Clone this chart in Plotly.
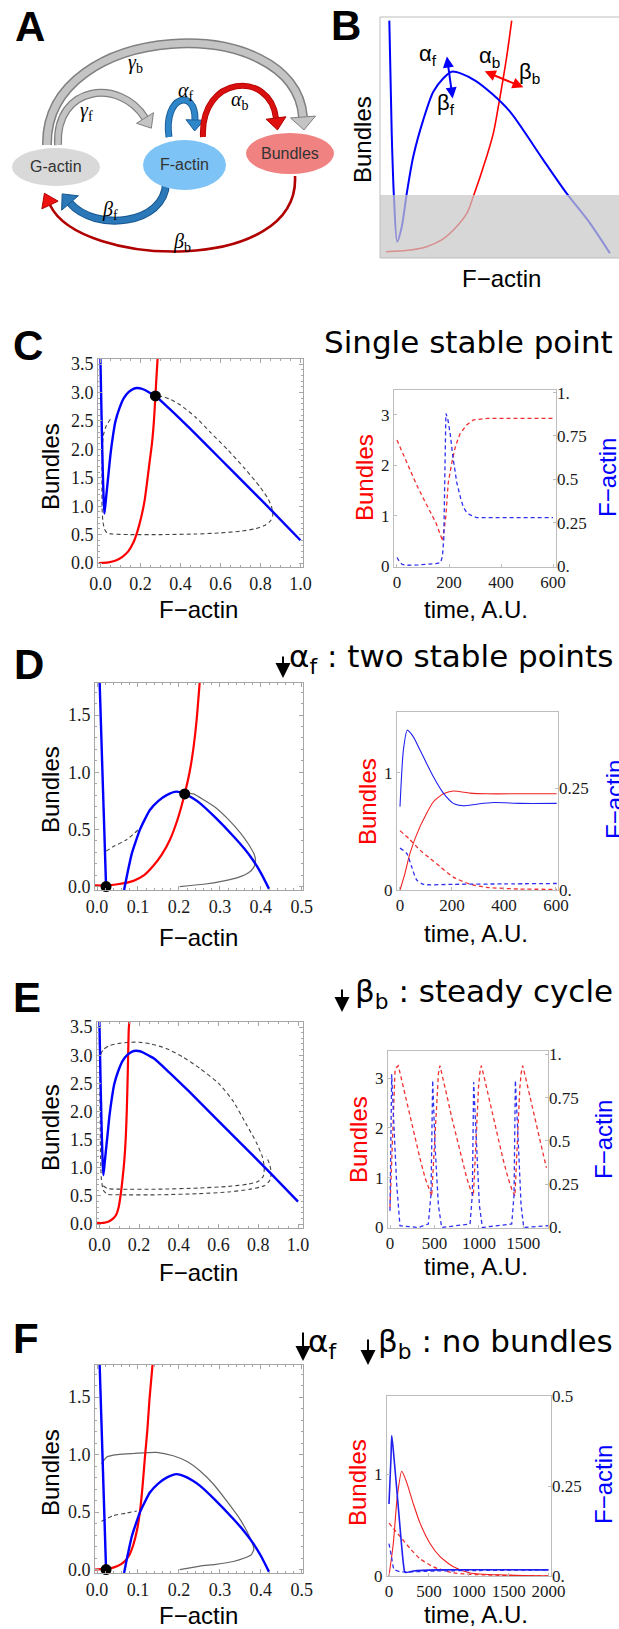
import math
import plotly.graph_objects as go

W, H = 619, 1629

# ======================= DATA =======================
# Panel B: schematic nullclines (arbitrary units 0..1)
B_blue_x = [0.039, 0.049, 0.059, 0.072, 0.091, 0.112, 0.139, 0.181, 0.223, 0.265, 0.300, 0.34, 0.40, 0.47, 0.544, 0.683, 0.781, 0.879, 0.962]
B_blue_y = [0.985, 0.519, 0.241, 0.068, 0.130, 0.268, 0.420, 0.573, 0.690, 0.746, 0.773, 0.765, 0.735, 0.68, 0.607, 0.407, 0.268, 0.144, 0.020]
B_red_x = [0.025, 0.126, 0.195, 0.258, 0.307, 0.363, 0.390, 0.446, 0.474, 0.495, 0.530, 0.551]
B_red_y = [0.026, 0.033, 0.047, 0.075, 0.116, 0.185, 0.254, 0.420, 0.517, 0.628, 0.835, 0.985]
B_shade_top = 0.261

# Panels C and E: F-actin nullcline (blue)
CE_blue_x = [0.0, 0.004, 0.008, 0.012, 0.016, 0.02, 0.027, 0.033, 0.042, 0.05, 0.062, 0.075, 0.095, 0.117, 0.142, 0.165, 0.183, 0.205, 0.225, 0.25, 0.275, 0.35, 0.45, 0.6, 0.75, 0.86, 1.0]
CE_blue_y = [3.6, 2.9, 2.2, 1.6, 1.15, 0.87, 1.1, 1.31, 1.62, 1.90, 2.22, 2.49, 2.72, 2.90, 3.01, 3.065, 3.08, 3.07, 3.04, 2.99, 2.94, 2.70, 2.36, 1.83, 1.30, 0.91, 0.40]
# Panel C: bundle nullcline (red), trajectory (dashed), fixed point
C_red_x = [-0.008, 0.04, 0.08, 0.11, 0.14, 0.165, 0.18, 0.195, 0.21, 0.222, 0.233, 0.245, 0.258, 0.268, 0.275, 0.28, 0.286]
C_red_y = [0.0, 0.01, 0.05, 0.11, 0.21, 0.36, 0.50, 0.68, 0.90, 1.12, 1.41, 1.75, 2.11, 2.52, 2.94, 3.25, 3.6]
C_traj_x = [0.05, 0.03, 0.015, 0.01, 0.008, 0.008, 0.012, 0.02, 0.033, 0.06, 0.15, 0.3, 0.475, 0.6, 0.7, 0.77, 0.82, 0.85, 0.862, 0.855, 0.835, 0.8, 0.72, 0.64, 0.55, 0.475, 0.4, 0.35, 0.31, 0.285]
C_traj_y = [2.53, 2.42, 2.25, 2.0, 1.5, 1.0, 0.75, 0.6, 0.53, 0.51, 0.50, 0.50, 0.51, 0.53, 0.56, 0.60, 0.66, 0.74, 0.84, 1.0, 1.15, 1.33, 1.67, 1.98, 2.3, 2.57, 2.78, 2.88, 2.93, 2.94]
C_fp_x = [0.275]
C_fp_y = [2.94]
# Panel C: time courses
C_t_red = [0, 25, 50, 75, 100, 125, 150, 176, 188, 197, 210, 225, 242, 268, 294, 350, 450, 600]
C_bund = [2.5, 2.2, 1.9, 1.62, 1.36, 1.12, 0.86, 0.5, 1.0, 1.65, 2.03, 2.38, 2.62, 2.8, 2.9, 2.93, 2.93, 2.93]
C_t_blue = [0, 8, 20, 40, 80, 120, 150, 168, 175, 180, 184, 188, 195, 204, 215, 230, 245, 255, 268, 281, 306, 400, 600]
C_fact = [0.05, 0.03, 0.01, 0.005, 0.007, 0.01, 0.015, 0.02, 0.06, 0.16, 0.5, 0.88, 0.85, 0.77, 0.63, 0.48, 0.39, 0.34, 0.31, 0.295, 0.28, 0.28, 0.28]

# Panels D and F: F-actin nullcline (blue, two branches)
DF_blueL_x = [0.006, 0.014, 0.022]
DF_blueL_y = [1.82, 0.91, 0.0]
DF_blueR_x = [0.066, 0.075, 0.085, 0.095, 0.105, 0.117, 0.129, 0.15, 0.17, 0.194, 0.214, 0.235, 0.251, 0.29, 0.333, 0.36, 0.381, 0.40, 0.42]
DF_blueR_y = [-0.03, 0.13, 0.29, 0.40, 0.50, 0.59, 0.67, 0.75, 0.80, 0.83, 0.81, 0.77, 0.73, 0.60, 0.44, 0.33, 0.23, 0.12, -0.02]
# Panel D
D_red_x = [-0.005, 0.022, 0.05, 0.089, 0.115, 0.137, 0.158, 0.178, 0.196, 0.214, 0.226, 0.235, 0.243, 0.251]
D_red_y = [0.01, 0.01, 0.02, 0.05, 0.10, 0.18, 0.28, 0.41, 0.58, 0.81, 1.0, 1.20, 1.45, 1.80]
D_trajS_x = [0.202, 0.26, 0.31, 0.345, 0.37, 0.383, 0.387, 0.384, 0.37, 0.35, 0.32, 0.29, 0.26, 0.235, 0.215]
D_trajS_y = [0.0, 0.02, 0.05, 0.08, 0.12, 0.17, 0.22, 0.28, 0.37, 0.47, 0.59, 0.69, 0.76, 0.81, 0.82]
D_trajD_x = [0.022, 0.04, 0.072, 0.105]
D_trajD_y = [0.31, 0.35, 0.41, 0.51]
D_fp_x = [0.022, 0.214]
D_fp_y = [0.0, 0.81]
D_t_rs = [0, 19, 38, 77, 128, 167, 205, 269, 333, 462, 603]
D_bund_s = [0.0, 0.14, 0.31, 0.54, 0.75, 0.82, 0.844, 0.826, 0.82, 0.82, 0.82]
D_t_bs = [0, 13, 28, 51, 77, 128, 167, 205, 244, 295, 359, 462, 603]
D_fact_s = [0.205, 0.344, 0.393, 0.377, 0.344, 0.279, 0.238, 0.213, 0.207, 0.211, 0.215, 0.213, 0.213]
D_t_rd = [0, 38, 77, 115, 154, 205, 269, 333, 462, 603]
D_bund_d = [0.506, 0.43, 0.34, 0.27, 0.20, 0.11, 0.05, 0.023, 0.008, 0.006]
D_t_bd = [0, 26, 45, 64, 90, 205, 400, 603]
D_fact_d = [0.103, 0.09, 0.057, 0.025, 0.014, 0.014, 0.015, 0.016]

# Panel E
E_red_x = [-0.017, 0.02, 0.05, 0.07, 0.084, 0.097, 0.109, 0.118, 0.126, 0.133, 0.138, 0.143, 0.148, 0.151]
E_red_y = [0.02, 0.02, 0.05, 0.1, 0.16, 0.3, 0.57, 0.85, 1.15, 1.55, 2.02, 2.7, 3.47, 3.6]
E_traj_x = [0.02, 0.04, 0.1, 0.3, 0.5, 0.65, 0.75, 0.8, 0.825, 0.83, 0.82, 0.79, 0.74, 0.672, 0.6, 0.504, 0.42, 0.336, 0.26, 0.2, 0.15, 0.1, 0.05, 0.02, 0.005,
            0.003, 0.004, 0.006, 0.01, 0.02, 0.04, 0.1, 0.3, 0.5, 0.65, 0.76, 0.83, 0.858, 0.865, 0.855, 0.84]
E_traj_y = [0.68, 0.63, 0.62, 0.62, 0.64, 0.67, 0.71, 0.76, 0.85, 1.0, 1.2, 1.45, 1.77, 2.19, 2.5, 2.77, 2.97, 3.12, 3.2, 3.23, 3.23, 3.21, 3.17, 3.1, 3.0,
            2.5, 1.8, 1.2, 0.8, 0.6, 0.53, 0.52, 0.52, 0.54, 0.57, 0.62, 0.68, 0.78, 0.92, 1.08, 1.2]
E_t_red = [0, 20, 40, 56, 75, 94, 120, 169, 225, 281, 338, 394, 440, 469,
           480, 500, 515, 530, 545, 562, 590, 637, 693, 749, 805, 862, 908, 937,
           948, 965, 980, 995, 1010, 1027, 1055, 1102, 1158, 1214, 1270, 1327, 1373, 1405,
           1413, 1430, 1445, 1460, 1475, 1492, 1520, 1567, 1623, 1679, 1735, 1760]
E_bund = [0.40, 1.4, 2.6, 3.13, 3.22, 3.25, 3.05, 2.67, 2.22, 1.80, 1.38, 1.0, 0.75, 0.63,
          1.0, 1.66, 2.3, 2.8, 3.1, 3.25, 3.05, 2.67, 2.22, 1.80, 1.38, 1.0, 0.75, 0.63,
          1.0, 1.66, 2.3, 2.8, 3.1, 3.25, 3.05, 2.67, 2.22, 1.80, 1.38, 1.0, 0.75, 0.63,
          1.0, 1.66, 2.3, 2.8, 3.1, 3.25, 3.05, 2.67, 2.22, 1.80, 1.38, 1.2]
E_t_blue = [0, 11, 19, 37, 75, 112, 319, 431, 461, 480, 506, 544, 581, 900, 926, 941, 975, 1005, 1039, 1369, 1395, 1410, 1444, 1474, 1504, 1781]
E_fact = [0.096, 0.67, 0.885, 0.67, 0.25, 0.01, 0.0, 0.02, 0.19, 0.85, 0.48, 0.13, 0.0, 0.02, 0.19, 0.84, 0.48, 0.13, 0.0, 0.02, 0.19, 0.85, 0.48, 0.13, 0.0, 0.01]

# Panel F
F_red_x = [-0.005, 0.032, 0.05, 0.064, 0.078, 0.089, 0.098, 0.105, 0.111, 0.117, 0.123, 0.128, 0.136]
F_red_y = [0.0, 0.01, 0.03, 0.06, 0.12, 0.22, 0.35, 0.51, 0.72, 0.98, 1.22, 1.48, 1.8]
F_trajS_x = [0.011, 0.024, 0.05, 0.089, 0.145, 0.186, 0.22, 0.251, 0.285, 0.316, 0.345, 0.365, 0.378, 0.383, 0.377, 0.36, 0.333, 0.29, 0.251, 0.202]
F_trajS_y = [0.92, 0.98, 1.0, 1.01, 1.02, 0.99, 0.94, 0.86, 0.74, 0.60, 0.46, 0.34, 0.24, 0.18, 0.13, 0.10, 0.07, 0.045, 0.03, 0.0]
F_trajD_x = [0.011, 0.04, 0.07, 0.097]
F_trajD_y = [0.42, 0.47, 0.49, 0.51]
F_fp_x = [0.022]
F_fp_y = [0.0]
F_t_rs = [0, 54, 104, 159, 213, 305, 389, 514, 640, 807, 1016, 1434, 2000]
F_bund_s = [0.0, 0.32, 0.78, 1.03, 0.94, 0.71, 0.52, 0.32, 0.19, 0.09, 0.03, 0.01, 0.0]
F_t_rd = [0, 138, 264, 389, 556, 807, 1225, 2000]
F_bund_d = [0.52, 0.39, 0.27, 0.17, 0.09, 0.03, 0.01, 0.0]
F_t_bs = [0, 25, 34, 54, 117, 180, 201, 305, 598, 2000]
F_fact_s = [0.20, 0.33, 0.39, 0.35, 0.19, 0.035, 0.01, 0.014, 0.017, 0.017]
F_t_bd = [0, 34, 63, 138, 600, 2000]
F_fact_d = [0.09, 0.05, 0.019, 0.012, 0.014, 0.017]

# Tick labels
pp_x_ticks_CE = [0.0, 0.2, 0.4, 0.6, 0.8, 1.0]
pp_y_ticks_CE = [0.0, 0.5, 1.0, 1.5, 2.0, 2.5, 3.0, 3.5]
pp_x_ticks_DF = [0.0, 0.1, 0.2, 0.3, 0.4, 0.5]
pp_y_ticks_DF = [0.0, 0.5, 1.0, 1.5]

# ======================= HELPERS =======================
def X(px):
    return px / W

def Y(py):
    return 1 - py / H

BLUE = "#0000ff"
RED = "#ff0000"
SERIF = "Liberation Serif, Times New Roman, Times, serif"
SANS = "Liberation Sans, Arial, Helvetica, sans-serif"
TITLEF = "DejaVu Sans, Verdana, sans-serif"

fig = go.Figure()
layout = dict(width=W, height=H, margin=dict(l=0, r=0, t=0, b=0, pad=0, autoexpand=False), autosize=False,
              paper_bgcolor="white", plot_bgcolor="white", showlegend=False)
shapes = []
annotations = []

def ann(text, x, y, size, color="black", family=SANS, xanchor="center", yanchor="middle", angle=0, **kw):
    annotations.append(dict(text=text, x=X(x), y=Y(y), xref="paper", yref="paper", showarrow=False,
                            font=dict(size=size, color=color, family=family), xanchor=xanchor,
                            yanchor=yanchor, textangle=angle, borderpad=0, **kw))

def tick_axis(domain, rng, vals, texts, anchor, minor_dtick=None, linecolor="#a6a6a6", size=18, side=None,
              overlaying=None, showline=True, mirror="allticks", ticklen=4):
    d = dict(domain=domain, range=rng, anchor=anchor, showline=showline, mirror=mirror,
             linecolor=linecolor, linewidth=1, ticks="inside", ticklen=ticklen, tickcolor=linecolor,
             tickwidth=1, tickmode="array", tickvals=vals, ticktext=texts, automargin=False,
             tickfont=dict(family=SERIF, size=size, color="#1a1a1a"), showgrid=False, zeroline=False,
             fixedrange=True)
    if minor_dtick:
        d["minor"] = dict(ticks="inside", ticklen=2, tickcolor=linecolor, dtick=minor_dtick, tick0=0, showgrid=False)
    if side:
        d["side"] = side
    if overlaying:
        d["overlaying"] = overlaying
    return d

def fmt1(v):
    return "%.1f" % v

# ======================= PANEL B =======================
layout["xaxis"] = dict(domain=[X(380), 1.0], range=[0, 1], visible=False, fixedrange=True, anchor="y", automargin=False)
layout["yaxis"] = dict(domain=[Y(258), Y(17)], range=[0, 1], visible=False, fixedrange=True, anchor="x", automargin=False)
fig.add_trace(go.Scatter(x=B_red_x, y=B_red_y, mode="lines", line=dict(color=RED, width=1.6, shape="spline"),
                         xaxis="x", yaxis="y", hoverinfo="skip"))
fig.add_trace(go.Scatter(x=B_blue_x, y=B_blue_y, mode="lines", line=dict(color=BLUE, width=2, shape="spline", smoothing=0.8),
                         xaxis="x", yaxis="y", hoverinfo="skip"))
shapes.append(dict(type="rect", xref="x", yref="y", x0=0, x1=1.05, y0=0, y1=B_shade_top,
                   fillcolor="#c8c8c8", opacity=0.72, line=dict(width=0), layer="above"))
shapes.append(dict(type="rect", xref="paper", yref="paper", x0=X(380), x1=X(640), y0=Y(258), y1=Y(17),
                   line=dict(color="#bdbdbd", width=1), fillcolor="rgba(0,0,0,0)"))
# arrows in B
for (x0, y0, x1, y1, col) in [(0.279, 0.842, 0.304, 0.662, BLUE), (0.432, 0.777, 0.600, 0.708, RED)]:
    annotations.append(dict(x=x1, y=y1, ax=x0, ay=y0, xref="x", yref="y", axref="x", ayref="y", text="",
                            showarrow=True, arrowhead=2, startarrowhead=2, arrowside="end+start",
                            arrowsize=1.1, startarrowsize=1.1, arrowwidth=2, arrowcolor=col))
ann("α<sub>f</sub>", 428, 55, 22)
ann("β<sub>f</sub>", 446, 104, 22)
ann("α<sub>b</sub>", 489, 57, 22)
ann("β<sub>b</sub>", 529, 73, 22)
ann("Bundles", 362, 140, 24, angle=-90)
ann("F−actin", 501, 278, 24)

# ======================= PANEL A (diagram) =======================
def bez(p):
    pts = [(X(a), Y(b)) for a, b in p]
    return "M{:.5f},{:.5f} C{:.5f},{:.5f} {:.5f},{:.5f} {:.5f},{:.5f}".format(*[v for q in pts for v in q])

def head(p2, p3, L, w):
    dx, dy = p3[0] - p2[0], p3[1] - p2[1]
    n = math.hypot(dx, dy)
    dx, dy = dx / n, dy / n
    tip = (p3[0] + dx * L, p3[1] + dy * L)
    a = (p3[0] - dy * w, p3[1] + dx * w)
    b = (p3[0] + dy * w, p3[1] - dx * w)
    return "M{:.5f},{:.5f} L{:.5f},{:.5f} L{:.5f},{:.5f} Z".format(X(a[0]), Y(a[1]), X(tip[0]), Y(tip[1]), X(b[0]), Y(b[1]))

arcs = [
    # points, outer color, inner color, outer width, inner width, head L, head w, head fill
    ([(47, 145), (45, 20), (295, 10), (303, 117)], "#808080", "#c4c4c4", 10, 7, 13, 12.5, "#c4c4c4"),
    ([(58, 145), (55, 85), (120, 78), (145, 118)], "#808080", "#c4c4c4", 8, 5.5, 12, 10, "#c4c4c4"),
    ([(169, 137), (163, 95), (196, 88), (195, 120)], "#1d5f99", "#2f86c8", 7, 5, 11, 9, "#2f86c8"),
    ([(203, 137), (200, 75), (270, 70), (276, 118)], "#b00000", "#d81010", 6, 4.5, 12, 10, "#e01010"),
    ([(166, 183), (165, 225), (95, 232), (70, 203)], "#17568f", "#2a78b8", 8, 6, 12, 11, "#2a78b8"),
    ([(295, 176), (300, 275), (80, 268), (50, 205)], "#b00000", "#c80000", 2.6, 2.6, 13, 9, "#ee1111"),
]
for pts, oc, ic, ow, iw, L, w, hf in arcs:
    shapes.append(dict(type="path", xref="paper", yref="paper", path=bez(pts), line=dict(color=oc, width=ow)))
    if iw != ow:
        shapes.append(dict(type="path", xref="paper", yref="paper", path=bez(pts), line=dict(color=ic, width=iw)))
    shapes.append(dict(type="path", xref="paper", yref="paper", path=head(pts[2], pts[3], L, w),
                       fillcolor=hf, line=dict(color=oc, width=1)))
for (x0, x1, y0, y1, col) in [(12, 100, 148, 186, "#d9d9d9"), (143, 226, 140, 190, "#7dc3f5"), (246, 334, 133, 174, "#f08282")]:
    shapes.append(dict(type="circle", xref="paper", yref="paper", x0=X(x0), x1=X(x1), y0=Y(y1), y1=Y(y0),
                       fillcolor=col, line=dict(width=0)))
ann("G-actin", 56, 167, 16, color="#333333")
ann("F-actin", 184, 165, 16, color="#333333")
ann("Bundles", 290, 154, 16, color="#333333")
ann("<i>γ</i><sub>b</sub>", 135, 63, 20, family=SERIF)
ann("<i>γ</i><sub>f</sub>", 86, 111, 20, family=SERIF)
ann("<i>α</i><sub>f</sub>", 186, 92, 20, family=SERIF)
ann("<i>α</i><sub>b</sub>", 240, 101, 20, family=SERIF)
ann("<i>β</i><sub>f</sub>", 110, 210, 20, family=SERIF)
ann("<i>β</i><sub>b</sub>", 182, 243, 20, family=SERIF)

# ======================= Phase planes =======================
def phase_axes(n, xdom, ydom, xr, yr, xt, yt, xminor, yminor):
    layout["xaxis%d" % n] = tick_axis([X(xdom[0]), X(xdom[1])], xr, xt, [fmt1(v) for v in xt], "y%d" % n, minor_dtick=xminor)
    layout["yaxis%d" % n] = tick_axis([Y(ydom[1]), Y(ydom[0])], yr, yt, [fmt1(v) for v in yt], "x%d" % n, minor_dtick=yminor)

def add(n, x, y, color, width, dash=None, shape="spline", yn=None, smoothing=0.6):
    fig.add_trace(go.Scatter(x=x, y=y, mode="lines",
                             line=dict(color=color, width=width, dash=dash, shape=shape, smoothing=smoothing),
                             xaxis="x%d" % n, yaxis="y%d" % (yn if yn else n), hoverinfo="skip"))

def dots(n, x, y):
    fig.add_trace(go.Scatter(x=x, y=y, mode="markers", marker=dict(color="black", size=11),
                             xaxis="x%d" % n, yaxis="y%d" % n, hoverinfo="skip", cliponaxis=False))

# C phase plane (axes 2)
phase_axes(2, (98, 303), (359, 567), [-0.012, 1.013], [-0.07, 3.59], pp_x_ticks_CE, pp_y_ticks_CE, 0.05, 0.1)
add(2, C_traj_x, C_traj_y, "#444444", 1.1, dash="4px,3px")
add(2, C_red_x, C_red_y, RED, 2.2)
add(2, CE_blue_x, CE_blue_y, BLUE, 2.4)
dots(2, C_fp_x, C_fp_y)

# D phase plane (axes 5)
phase_axes(5, (95, 303), (683, 890), [-0.005, 0.503], [-0.03, 1.78], pp_x_ticks_DF, pp_y_ticks_DF, 0.02, 0.1)
add(5, D_trajD_x, D_trajD_y, "#444444", 1.1, dash="4px,3px")
add(5, D_trajS_x, D_trajS_y, "#666666", 1.2)
add(5, D_red_x, D_red_y, RED, 2.2)
add(5, DF_blueL_x, DF_blueL_y, BLUE, 2.4, shape="linear")
add(5, DF_blueR_x, DF_blueR_y, BLUE, 2.4)
dots(5, D_fp_x, D_fp_y)

# E phase plane (axes 8)
phase_axes(8, (97, 303), (1022, 1228), [-0.012, 1.025], [-0.07, 3.59], pp_x_ticks_CE, pp_y_ticks_CE, 0.05, 0.1)
add(8, E_traj_x, E_traj_y, "#444444", 1.1, dash="4px,3px")
add(8, E_red_x, E_red_y, RED, 2.2)
add(8, CE_blue_x, CE_blue_y, BLUE, 2.4)

# F phase plane (axes 11)
phase_axes(11, (95, 303), (1365, 1573), [-0.005, 0.503], [-0.03, 1.78], pp_x_ticks_DF, pp_y_ticks_DF, 0.02, 0.1)
add(11, F_trajD_x, F_trajD_y, "#444444", 1.1, dash="4px,3px")
add(11, F_trajS_x, F_trajS_y, "#666666", 1.2)
add(11, F_red_x, F_red_y, RED, 2.2)
add(11, DF_blueL_x, DF_blueL_y, BLUE, 2.4, shape="linear")
add(11, DF_blueR_x, DF_blueR_y, BLUE, 2.4)
dots(11, F_fp_x, F_fp_y)

# ======================= Time courses =======================
def time_axes(n, xdom, ydom, xr, yl, yr, xt, ylt, yrt, yrtext):
    lc = "#bdbdbd"
    layout["xaxis%d" % n] = tick_axis([X(xdom[0]), X(xdom[1])], xr, xt, [str(v) for v in xt], "y%d" % n,
                                      linecolor=lc, mirror=True, ticklen=3, size=17)
    layout["yaxis%d" % n] = tick_axis([Y(ydom[1]), Y(ydom[0])], yl, ylt, [str(v) for v in ylt], "x%d" % n,
                                      linecolor=lc, mirror=True, ticklen=3, size=17)
    layout["yaxis%d" % (n + 1)] = tick_axis([Y(ydom[1]), Y(ydom[0])], yr, yrt, yrtext, "x%d" % n,
                                            linecolor=lc, side="right", overlaying="y%d" % n, showline=False,
                                            mirror=False, ticklen=3, size=17)

DASH = "4px,3px"
# C time (x3, y3 left, y4 right)
time_axes(3, (394, 556), (390, 567), [-11.5, 611.5], [-0.01, 3.49], [-0.005, 1.015],
          [0, 200, 400, 600], [0, 1, 2, 3], [0, 0.25, 0.5, 0.75, 1.0], ["0.", "0.25", "0.5", "0.75", "1."])
add(3, C_t_red, C_bund, "#f03030", 1.3, dash=DASH, shape="linear")
add(3, C_t_blue, C_fact, "#3030f0", 1.3, dash=DASH, shape="linear", yn=4)

# D time (x6, y6, y7)
time_axes(6, (397, 558), (712, 890), [-11.5, 608], [0, 1.517], [0, 0.4377],
          [0, 200, 400, 600], [0, 1], [0, 0.25], ["0.", "0.25"])
add(6, D_t_rd, D_bund_d, "#f03030", 1.3, dash=DASH)
add(6, D_t_bd, D_fact_d, "#3030f0", 1.3, dash=DASH, yn=7)
add(6, D_t_rs, D_bund_s, "#f02020", 1.1)
add(6, D_t_bs, D_fact_s, "#2020f0", 1.1, yn=7)

# E time (x9, y9, y10)
time_axes(9, (388, 548), (1051, 1228), [-22.5, 1777], [-0.01, 3.545], [-0.003, 1.02],
          [0, 500, 1000, 1500], [0, 1, 2, 3], [0, 0.25, 0.5, 0.75, 1.0], ["0.", "0.25", "0.5", "0.75", "1."])
add(9, E_t_red, E_bund, "#f03030", 1.3, dash=DASH, shape="linear")
add(9, E_t_blue, E_fact, "#3030f0", 1.3, dash=DASH, shape="linear", yn=10)

# F time (x12, y12, y13)
time_axes(12, (387, 551), (1396, 1576), [-25, 2030], [0, 1.77], [0, 0.5],
          [0, 500, 1000, 1500, 2000], [0, 1], [0, 0.25, 0.5], ["0.", "0.25", "0.5"])
add(12, F_t_rd, F_bund_d, "#f03030", 1.3, dash=DASH)
add(12, F_t_bd, F_fact_d, "#3030f0", 1.3, dash=DASH, yn=13)
add(12, F_t_rs, F_bund_s, "#f02020", 1.1)
add(12, F_t_bs, F_fact_s, "#2020f0", 1.6, yn=13)

# ======================= Labels & titles =======================
for lab, x, y in [("A", 30, 27), ("B", 346, 26), ("C", 28, 345), ("D", 29, 665), ("E", 27, 997), ("F", 26, 1338)]:
    ann("<b>%s</b>" % lab, x, y, 42)

for y in [467, 790, 1128, 1473]:
    ann("Bundles", 50, y, 24, angle=-90)
for y in [609, 937, 1272, 1615]:
    ann("F−actin", 198, y, 24)
for (xb, yb, xf, yf, ty) in [(365, 478, 608, 478, 610), (367, 802, 614, 800, 933), (358, 1140, 603, 1140, 1266), (357, 1483, 603, 1485, 1614)]:
    ann("Bundles", xb, yb, 24, color=RED, angle=-90)
    ann("F−actin", xf, yf, 24, color=BLUE, angle=-90)
    ann("time, A.U.", 476, ty, 24)

TS = 31
ann("Single stable point", 614, 342, TS, xanchor="right", family=TITLEF)
ann("α<sub>f</sub> : two stable points", 614, 658, TS, xanchor="right", family=TITLEF)
ann("β<sub>b</sub> : steady cycle", 614, 993, TS, xanchor="right", family=TITLEF)
ann("α<sub>f</sub>", 307, 1343, TS, xanchor="left", family=TITLEF)
ann("β<sub>b</sub> : no bundles", 614, 1343, TS, xanchor="right", family=TITLEF)

def down_arrow(x, y0, y1):
    annotations.append(dict(x=X(x), y=Y(y1), ax=0, ay=-(y1 - y0), xref="paper", yref="paper", axref="pixel", ayref="pixel",
                            text="", showarrow=True, arrowhead=2, arrowsize=1.5, arrowwidth=2, arrowcolor="black"))

down_arrow(283, 655, 678)
down_arrow(342, 988, 1012)
down_arrow(303, 1331, 1361)
down_arrow(368, 1338, 1365)

layout["shapes"] = shapes
layout["annotations"] = annotations
fig.update_layout(**layout)
fig.write_html("out.html")
